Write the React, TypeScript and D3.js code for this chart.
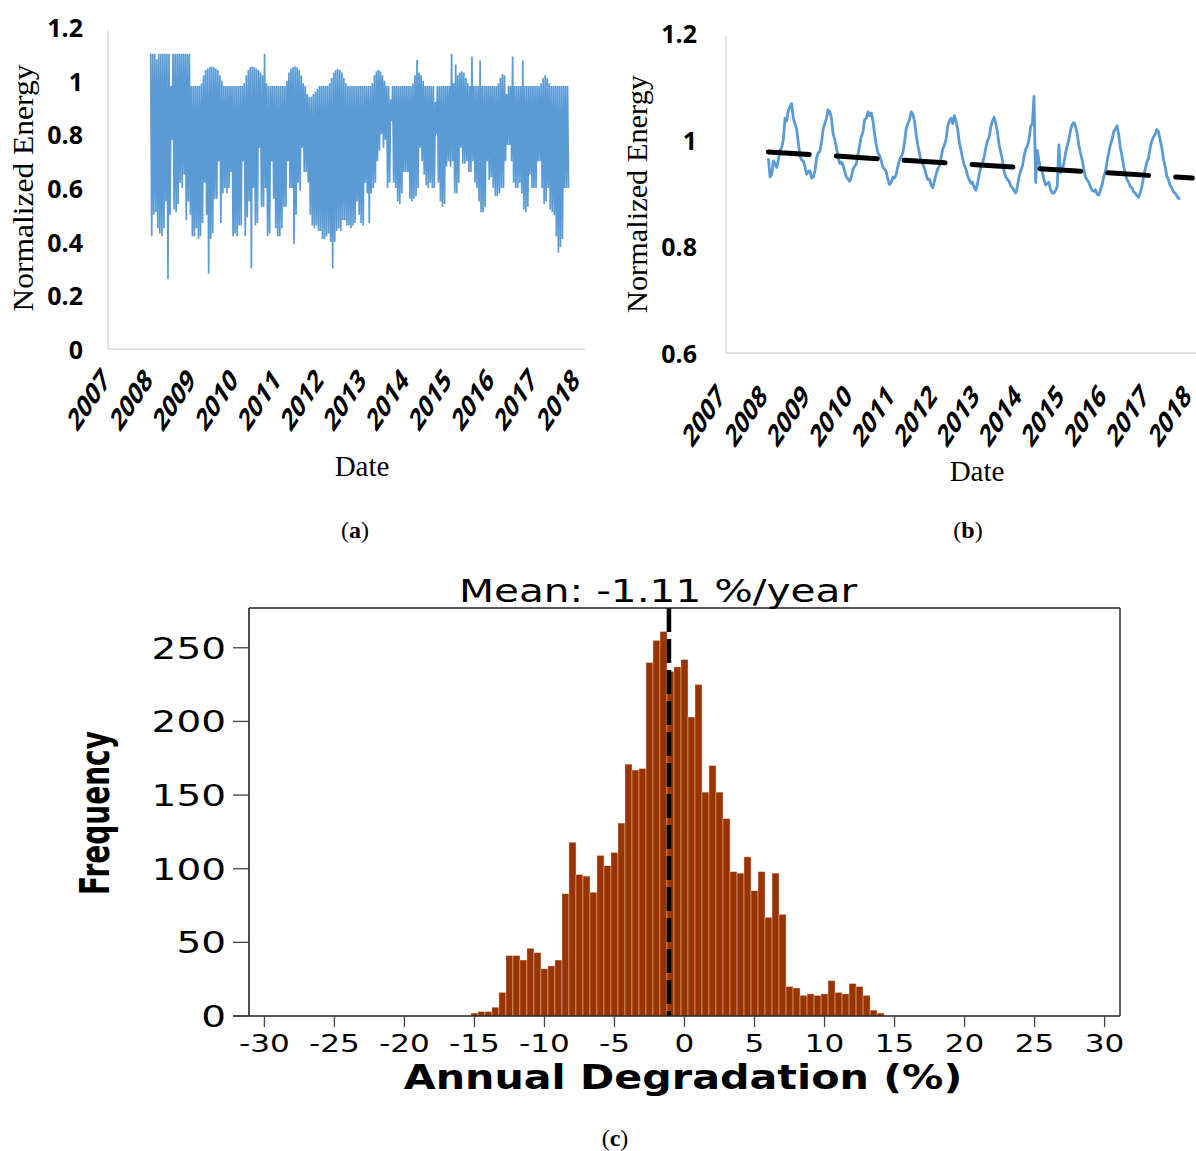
import React from 'react';
import * as d3 from 'd3';

// ---------- Panel (a) / (b) shared ----------
const YEARS = ['2007', '2008', '2009', '2010', '2011', '2012', '2013', '2014', '2015', '2016', '2017', '2018'];
const A_Y_TICKS = [0, 0.2, 0.4, 0.6, 0.8, 1, 1.2];
const A_Y_LABELS = ['0', '0.2', '0.4', '0.6', '0.8', '1', '1.2'];
const B_Y_TICKS = [0.6, 0.8, 1, 1.2];
const B_Y_LABELS = ['0.6', '0.8', '1', '1.2'];

// Panel (a): daily normalized energy, sampled 21 times per year from 2008.0
const A_START = 2008;
const A_PER_YEAR = 21;
const A_HIGH = [
  1.1, 1.1, 1.1, 1.08, 1.1, 1.1, 1.1, 1.1, 1.1, 1.1, 0.98, 1.1, 1.1, 1.1, 1.1, 1.1, 1.1, 1.1, 1.1, 1.1, 0.98,
  0.98, 0.98, 0.98, 0.98, 0.99, 1.02, 1.04, 1.045, 1.05, 1.053, 1.05, 1.045, 1.04, 1.02, 1.0, 0.98, 0.98, 0.98, 0.98, 0.98, 0.98,
  0.98, 0.98, 0.98, 0.98, 0.99, 1.02, 1.04, 1.05, 1.053, 1.05, 1.045, 1.04, 1.03, 1.02, 1.1, 0.99, 0.98, 0.98, 0.98, 0.98, 0.98,
  0.98, 0.98, 0.98, 0.98, 1.0, 1.03, 1.045, 1.05, 1.053, 1.05, 1.04, 1.02, 0.99, 0.98, 0.95, 0.94, 0.94, 0.95, 0.96, 0.97, 0.98,
  0.98, 0.98, 0.98, 0.98, 0.99, 1.01, 1.03, 1.04, 1.043, 1.04, 1.03, 1.01, 0.99, 0.98, 0.98, 0.98, 0.98, 0.98, 0.98, 0.98, 0.98,
  0.98, 0.98, 0.98, 0.98, 0.99, 1.02, 1.035, 1.04, 1.035, 1.02, 1.0, 0.98, 0.98, 0.93, 0.98, 0.98, 0.98, 0.98, 0.98, 0.98, 0.98,
  0.98, 0.98, 0.98, 0.99, 1.02, 1.078, 1.03, 1.02, 1.0, 0.98, 0.98, 0.98, 0.98, 0.98, 0.92, 0.98, 0.98, 0.98, 0.98, 0.98, 0.98,
  0.98, 1.1, 0.99, 1.06, 1.02, 1.03, 1.035, 1.03, 1.01, 0.99, 0.98, 1.09, 0.98, 0.98, 0.98, 1.075, 0.98, 0.98, 0.98, 0.98, 0.98,
  0.98, 0.98, 0.98, 0.99, 1.01, 1.025, 1.02, 0.95, 0.98, 0.98, 1.09, 0.98, 0.98, 0.98, 0.98, 1.075, 0.98, 0.98, 0.98, 0.98, 0.98,
  0.98, 0.98, 0.98, 0.99, 1.01, 1.02, 1.01, 0.99, 0.98, 0.98, 0.98, 0.98, 0.98, 0.98, 0.98, 0.98, 0.98,
];
const A_LOW = [
  0.42, 0.5, 0.51, 0.45, 0.43, 0.42, 0.45, 0.55, 0.26, 0.5, 0.78, 0.52, 0.51, 0.54, 0.62, 0.6, 0.65, 0.48, 0.55, 0.5, 0.42,
  0.42, 0.45, 0.41, 0.42, 0.47, 0.62, 0.5, 0.28, 0.41, 0.43, 0.56, 0.56, 0.7, 0.47, 0.58, 0.6, 0.58, 0.6, 0.66, 0.42, 0.43,
  0.42, 0.46, 0.46, 0.7, 0.42, 0.49, 0.55, 0.3, 0.6, 0.46, 0.47, 0.75, 0.53, 0.53, 0.6, 0.42, 0.43, 0.7, 0.56, 0.45, 0.42,
  0.42, 0.45, 0.53, 0.53, 0.7, 0.6, 0.6, 0.39, 0.5, 0.62, 0.59, 0.75, 0.66, 0.66, 0.62, 0.5, 0.46, 0.45, 0.46, 0.44, 0.44,
  0.41, 0.41, 0.42, 0.43, 0.4, 0.3, 0.4, 0.44, 0.45, 0.44, 0.48, 0.48, 0.46, 0.46, 0.45, 0.46, 0.47, 0.55, 0.5, 0.47, 0.46,
  0.62, 0.58, 0.47, 0.58, 0.6, 0.62, 0.7, 0.74, 0.8, 0.75, 0.78, 0.6, 0.62, 0.85, 0.62, 0.6, 0.55, 0.54, 0.58, 0.66, 0.66,
  0.66, 0.56, 0.55, 0.56, 0.57, 0.6, 0.75, 0.7, 0.65, 0.61, 0.6, 0.62, 0.6, 0.6, 0.8, 0.62, 0.55, 0.53, 0.54, 0.68, 0.7,
  0.68, 0.7, 0.58, 0.58, 0.62, 0.75, 0.69, 0.69, 0.7, 0.66, 0.66, 0.7, 0.62, 0.6, 0.55, 0.51, 0.51, 0.53, 0.7, 0.63, 0.64,
  0.6, 0.57, 0.57, 0.58, 0.6, 0.6, 0.7, 0.76, 0.76, 0.7, 0.62, 0.6, 0.6, 0.62, 0.58, 0.52, 0.51, 0.53, 0.65, 0.6, 0.6,
  0.6, 0.7, 0.7, 0.6, 0.54, 0.55, 0.6, 0.52, 0.51, 0.5, 0.42, 0.36, 0.38, 0.41, 0.6, 0.6, 0.6,
];

// Panel (b): smoothed normalized energy, regular samples from 2008.0 (main samples + half-step samples)
const B_START = 2008;
const B_STEP = 0.0783;
const B_VALUES = [
  0.965, 0.935, 0.955, 0.962, 0.985, 1.04, 1.055, 1.068, 1.03, 0.995, 0.962, 0.95, 0.94, 0.928, 0.94, 0.975,
  0.995, 1.03, 1.056, 1.04, 1.0, 0.966, 0.958, 0.94, 0.926, 0.93, 0.95, 0.972, 1.006, 1.038, 1.052, 1.05,
  1.01, 0.975, 0.96, 0.945, 0.925, 0.92, 0.928, 0.95, 0.968, 0.995, 1.03, 1.052, 1.035, 0.99, 0.958, 0.946,
  0.925, 0.915, 0.922, 0.945, 0.966, 0.99, 1.025, 1.04, 1.045, 1.02, 0.98, 0.952, 0.932, 0.918, 0.91, 0.918,
  0.948, 0.968, 0.998, 1.024, 1.042, 1.014, 0.976, 0.94, 0.926, 0.913, 0.904, 0.912, 0.942, 0.968, 0.988, 1.025,
  1.081, 0.98, 0.945, 0.925, 0.918, 0.906, 0.9, 0.912, 0.938, 0.956, 0.988, 1.018, 1.032, 1.012, 0.975, 0.945,
  0.925, 0.912, 0.903, 0.898, 0.905, 0.93, 0.958, 0.99, 1.015, 1.026, 0.985, 0.95, 0.925, 0.912, 0.902, 0.895,
  0.9, 0.93, 0.958, 0.985, 1.005, 1.019, 1.0, 0.963, 0.932, 0.914, 0.902, 0.895, 0.889,
];
const B_MID = [
  0.93, 0.96, 0.948, 0.98, 1.0, 1.035, 1.062, 1.04, 1.02, 0.97, 0.96, 0.935, 0.942, 0.93, 0.965, 0.978,
  1.02, 1.04, 1.052, 1.01, 0.985, 0.955, 0.952, 0.93, 0.922, 0.945, 0.955, 0.99, 1.015, 1.04, 1.045, 1.035,
  0.99, 0.97, 0.948, 0.94, 0.916, 0.93, 0.935, 0.962, 0.975, 1.02, 1.038, 1.048, 1.01, 0.975, 0.955, 0.935,
  0.926, 0.91, 0.935, 0.95, 0.982, 1.0, 1.035, 1.03, 1.035, 0.995, 0.965, 0.945, 0.925, 0.92, 0.905, 0.935,
  0.955, 0.985, 1.005, 1.035, 1.03, 0.99, 0.962, 0.93, 0.922, 0.91, 0.9, 0.93, 0.95, 0.982, 1.0, 1.03,
  0.92, 0.96, 0.94, 0.915, 0.92, 0.9, 0.905, 0.99, 0.942, 0.975, 1.0, 1.028, 1.025, 0.99, 0.962, 0.93,
  0.92, 0.905, 0.906, 0.896, 0.915, 0.94, 0.975, 1.0, 1.02, 1.01, 0.97, 0.935, 0.92, 0.91, 0.9, 0.892,
  0.912, 0.945, 0.965, 0.998, 1.01, 1.015, 0.985, 0.95, 0.925, 0.91, 0.9, 0.89,
];
const B_TREND_YEARS = [2008, 2018];
const B_TREND_VALUES = [0.977, 0.928];

// Panel (c): histogram of annual degradation
const HIST_START = -15.25;
const HIST_BIN = 0.5;
const HIST_COUNTS = [
  2, 3, 3, 6, 16, 41, 41, 38, 46, 43, 32, 34, 38, 83, 118, 96, 95, 84, 109, 102, 111, 131, 171, 167, 168,
  240, 255, 261, 234, 237, 242, 203, 225, 152, 170, 152, 134, 98, 97, 108, 85, 98, 67, 97, 69,
  20, 19, 14, 15, 14, 15, 24, 16, 15, 22, 20, 14, 4, 2,
];
const MEAN = -1.11;
const HIST_X_TICKS = [-30, -25, -20, -15, -10, -5, 0, 5, 10, 15, 20, 25, 30];
const HIST_Y_TICKS = [0, 50, 100, 150, 200, 250];

const BLUE = '#5B9BD5';
const AXIS_GRAY = '#D9D9D9';
const SERIF = '"Liberation Serif", "Times New Roman", serif';
const LABEL_FONT = '"Open Sans", "Liberation Sans", sans-serif';
const VERDANA = '"DejaVu Sans", Verdana, sans-serif';

function StretchText({ x, y, sx = 1.25, children, ...rest }: any) {
  return (
    <g transform={`translate(${x},${y}) scale(${sx},1)`}>
      <text x={0} y={0} {...rest}>{children}</text>
    </g>
  );
}

export default function App() {
  // ----- panel (a) -----
  const xA = d3.scaleLinear().domain([2007, 2018]).range([108, 577.7]);
  const yA = d3.scaleLinear().domain([0, 1.2]).range([349, 27]);
  const aPts: [number, number][] = [];
  A_HIGH.forEach((hi, i) => {
    const t = A_START + i / A_PER_YEAR;
    aPts.push([t, hi]);
    aPts.push([t + 0.5 / A_PER_YEAR, A_LOW[i]]);
  });
  const lineA = d3.line<[number, number]>().x(d => xA(d[0])).y(d => yA(d[1]));

  // ----- panel (b) -----
  const xB = d3.scaleLinear().domain([2007, 2018]).range([726, 1192.4]);
  const yB = d3.scaleLinear().domain([0.6, 1.2]).range([353, 33]);
  const bPts: [number, number][] = [];
  B_VALUES.forEach((v, i) => {
    const t = B_START + i * B_STEP;
    bPts.push([t, v]);
    if (i < B_MID.length) bPts.push([t + B_STEP / 2, B_MID[i]]);
  });
  const lineB = d3.line<[number, number]>().x(d => xB(d[0])).y(d => yB(d[1]));
  const trendPts: [number, number][] = B_TREND_YEARS.map((t, i) => [t, B_TREND_VALUES[i]]);

  // ----- panel (c) -----
  const xC = d3.scaleLinear().domain([-31.1, 31.1]).range([249, 1120]);
  const yC = d3.scaleLinear().domain([0, 277]).range([1016, 608]);

  const yearLabels = (xs: d3.ScaleLinear<number, number>, y0: number, dx: number) =>
    YEARS.map((yr, i) => (
      <text
        key={yr}
        transform={`translate(${xs(2007 + i) + dx},${y0}) scale(1,1.5) rotate(-45)`}
        textAnchor="end"
        fontFamily={LABEL_FONT}
        fontWeight={700}
        fontSize={21}
        fill="#000"
      >
        {yr}
      </text>
    ));

  return (
    <svg
      width={1196}
      height={1151}
      viewBox="0 0 1196 1151"
      style={{ position: 'absolute', left: 0, top: 0, display: 'block', background: '#fff' }}
    >
      <rect x={0} y={0} width={1196} height={1151} fill="#fff" />

      {/* ================= Panel (a) ================= */}
      <g>
        <line x1={108} x2={108} y1={yA(1.2) + 3} y2={yA(0)} stroke={AXIS_GRAY} strokeWidth={1.5} />
        <line x1={108} x2={585} y1={yA(0)} y2={yA(0)} stroke={AXIS_GRAY} strokeWidth={1.5} />
        <path d={lineA(aPts) || ''} fill="none" stroke={BLUE} strokeWidth={1.7} strokeLinejoin="miter" />
        {A_Y_TICKS.map((v, i) => (
          <text key={v} x={83} y={yA(v)} textAnchor="end" dominantBaseline="central"
            fontFamily={LABEL_FONT} fontWeight={700} fontSize={25} fill="#000">
            {A_Y_LABELS[i]}
          </text>
        ))}
        {yearLabels(xA, 382, 3)}
        <text transform={`translate(33,${188}) rotate(-90)`} textAnchor="middle"
          fontFamily={SERIF} fontSize={30} textLength={247} lengthAdjust="spacingAndGlyphs" fill="#000">
          Normalized Energy
        </text>
        <text x={362} y={476} textAnchor="middle" fontFamily={SERIF} fontSize={29} fill="#000">Date</text>
        <text x={355} y={538} textAnchor="middle" fontFamily={SERIF} fontSize={24} fill="#000">
          (<tspan fontWeight={700}>a</tspan>)
        </text>
      </g>

      {/* ================= Panel (b) ================= */}
      <g>
        <line x1={726} x2={726} y1={yB(1.2) + 3} y2={yB(0.6)} stroke={AXIS_GRAY} strokeWidth={1.5} />
        <line x1={726} x2={1196} y1={yB(0.6)} y2={yB(0.6)} stroke={AXIS_GRAY} strokeWidth={1.5} />
        <path d={lineB(bPts) || ''} fill="none" stroke={BLUE} strokeWidth={2.8} strokeLinejoin="round" />
        <path d={lineB(trendPts) || ''} fill="none" stroke="#000" strokeWidth={5}
          strokeDasharray="41 27" strokeLinecap="round" />
        {B_Y_TICKS.map((v, i) => (
          <text key={v} x={697} y={yB(v)} textAnchor="end" dominantBaseline="central"
            fontFamily={LABEL_FONT} fontWeight={700} fontSize={25} fill="#000">
            {B_Y_LABELS[i]}
          </text>
        ))}
        {yearLabels(xB, 398, 0)}
        <text transform={`translate(647,${194}) rotate(-90)`} textAnchor="middle"
          fontFamily={SERIF} fontSize={30} textLength={238} lengthAdjust="spacingAndGlyphs" fill="#000">
          Normalized Energy
        </text>
        <text x={977} y={481} textAnchor="middle" fontFamily={SERIF} fontSize={29} fill="#000">Date</text>
        <text x={968} y={538} textAnchor="middle" fontFamily={SERIF} fontSize={24} fill="#000">
          (<tspan fontWeight={700}>b</tspan>)
        </text>
      </g>

      {/* ================= Panel (c) ================= */}
      <g>
        {HIST_COUNTS.map((c, i) => {
          const x0 = HIST_START + i * HIST_BIN;
          return (
            <rect key={i} x={xC(x0)} y={yC(c)} width={xC(x0 + HIST_BIN) - xC(x0)} height={yC(0) - yC(c)}
              fill="#993300" stroke="#f4e1d8" strokeWidth={0.4} />
          );
        })}
        <line x1={xC(MEAN)} x2={xC(MEAN)} y1={yC(277)} y2={yC(0)} stroke="#000" strokeWidth={4.5}
          strokeDasharray="24 7" />
        {/* frame */}
        <line x1={249} x2={1120} y1={608} y2={608} stroke="#222" strokeWidth={1.4} />
        <line x1={249} x2={249} y1={608} y2={1016} stroke="#222" strokeWidth={1.6} />
        <line x1={1120} x2={1120} y1={608} y2={1016} stroke="#222" strokeWidth={1.4} />
        <line x1={233} x2={1120} y1={1016} y2={1016} stroke="#222" strokeWidth={1.6} />
        {HIST_Y_TICKS.map(v => (
          <g key={v}>
            <line x1={233} x2={249} y1={yC(v)} y2={yC(v)} stroke="#444" strokeWidth={1.3} />
            <StretchText x={226} y={yC(v) + 11} sx={1.3} textAnchor="end" fontFamily={VERDANA}
              fontSize={30} fill="#000">
              {String(v)}
            </StretchText>
          </g>
        ))}
        {HIST_X_TICKS.map(v => (
          <g key={v}>
            <line x1={xC(v)} x2={xC(v)} y1={1016} y2={1027} stroke="#444" strokeWidth={1.3} />
            <StretchText x={xC(v)} y={1052} sx={1.22} textAnchor="middle" fontFamily={VERDANA}
              fontSize={25.5} fill="#000">
              {String(v)}
            </StretchText>
          </g>
        ))}
        <StretchText x={658} y={602} sx={1.27} textAnchor="middle" fontFamily={VERDANA} fontSize={32} fill="#000">
          Mean: -1.11 %/year
        </StretchText>
        <StretchText x={683} y={1089} sx={1.25} textAnchor="middle" fontFamily={VERDANA} fontWeight={700}
          fontSize={33} fill="#000">
          Annual Degradation (%)
        </StretchText>
        <g transform="translate(109,813) scale(1.45,1) rotate(-90)">
          <text x={0} y={0} textAnchor="middle" fontFamily={VERDANA} fontWeight={700} fontSize={28} fill="#000">
            Frequency
          </text>
        </g>
        <text x={615} y={1146} textAnchor="middle" fontFamily={SERIF} fontSize={24} fill="#000">
          (<tspan fontWeight={700}>c</tspan>)
        </text>
      </g>
    </svg>
  );
}
